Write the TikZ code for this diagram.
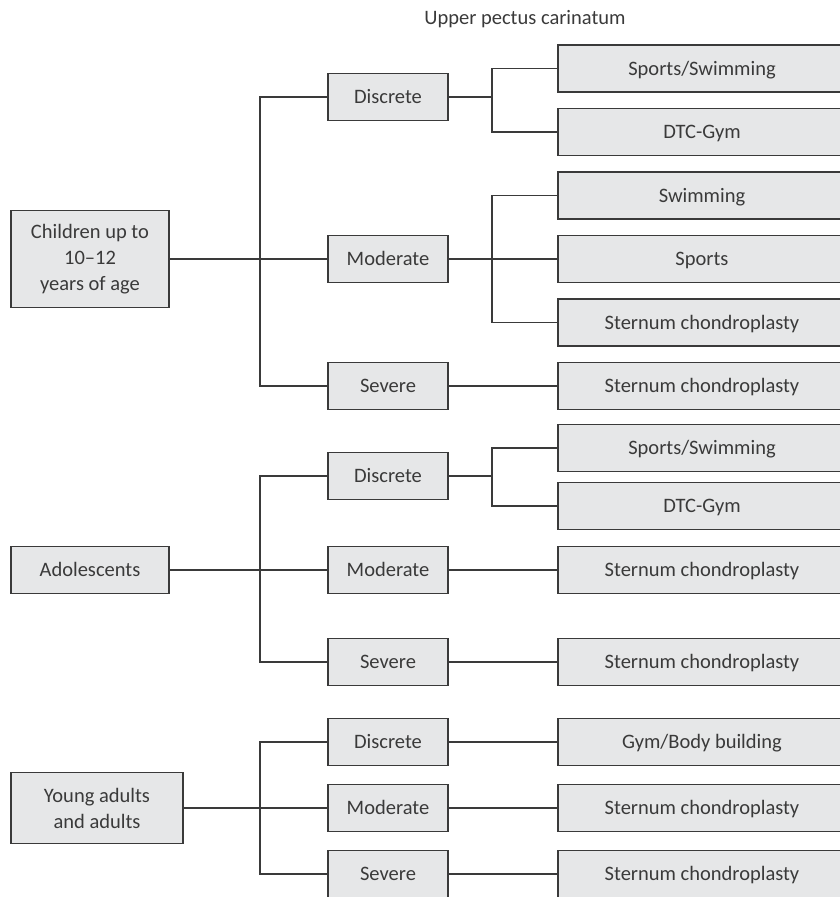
\documentclass[tikz,border=0pt]{standalone}
\usepackage{fontspec}
\setmainfont{Carlito}
\usetikzlibrary{positioning}
\definecolor{boxfill}{HTML}{E6E7E8}
\definecolor{boxline}{HTML}{3A3A3A}
\tikzset{
x=1pt, y=-1pt, % one unit is one pixel, y runs downwards
node distance=63.5pt, % spacing of the treatment boxes
every node/.style={text=boxline, font=\fontsize{20.5}{26}\selectfont},
box/.style={draw=boxline, fill=boxfill, line width=1.3pt, inner sep=0pt, align=center, minimum height=47pt, text height=13pt, text depth=0pt},
agebox/.style={box, minimum width=158pt}, % age groups
gradebox/.style={box, minimum width=120pt}, % severity
treatbox/.style={box, minimum width=288pt}, % treatment
multiline/.style={text height=, text depth=}, % boxes with several lines
link/.style={draw=boxline, line width=1.2pt},
}

\begin{document}
\begin{tikzpicture}
    \useasboundingbox (0,0) rectangle (840,897);
    \clip (0,0) rectangle (840,897);

    \node (title) at (525,19) {Upper pectus carinatum};

    \coordinate (trunk) at (260,0);
    \coordinate (fork) at (492,0);

    % children
    \node[agebox, multiline, minimum height=97pt] (kids) at (90,259) {Children up to\\10--12\\years of age};
    \node[gradebox] (kids_d) at (388,97) {Discrete};
    \node[gradebox] (kids_m) at (388,259) {Moderate};
    \node[gradebox] (kids_s) at (388,386) {Severe};

    \node[treatbox] (kids_d_a) at (702,68.5) {Sports/Swimming};
    \node[treatbox, below of=kids_d_a] (kids_d_b) {DTC-Gym};
    \node[treatbox, below of=kids_d_b] (kids_m_a) {Swimming};
    \node[treatbox, below of=kids_m_a] (kids_m_b) {Sports};
    \node[treatbox, below of=kids_m_b] (kids_m_c) {Sternum chondroplasty};
    \node[treatbox, below of=kids_m_c] (kids_s_a) {Sternum chondroplasty};

    % adolescents
    \node[agebox] (teens) at (90,570) {Adolescents};
    \node[gradebox] (teens_d) at (388,476) {Discrete};
    \node[gradebox] (teens_m) at (388,570) {Moderate};
    \node[gradebox] (teens_s) at (388,662) {Severe};

    \node[treatbox] (teens_d_a) at (702,448) {Sports/Swimming};
    \node[treatbox, node distance=58pt, below of=teens_d_a] (teens_d_b) {DTC-Gym};
    \node[treatbox, node distance=314pt, right of=teens_m] (teens_m_a) {Sternum chondroplasty};
    \node[treatbox, node distance=314pt, right of=teens_s] (teens_s_a) {Sternum chondroplasty};

    % young adults
    \node[agebox, multiline, minimum width=172pt, minimum height=71pt] (adults) at (97,808) {Young adults\\and adults};
    \node[gradebox] (adults_d) at (388,742) {Discrete};
    \node[gradebox] (adults_m) at (388,808) {Moderate};
    \node[gradebox] (adults_s) at (388,874) {Severe};

    \node[treatbox, node distance=314pt, right of=adults_d] (adults_d_a) {Gym/Body building};
    \node[treatbox, node distance=314pt, right of=adults_m] (adults_m_a) {Sternum chondroplasty};
    \node[treatbox, node distance=314pt, right of=adults_s] (adults_s_a) {Sternum chondroplasty};

    % age group to severity
    \draw[link] (kids) -- (kids_m);
    \draw[link] (kids_d.west) -- (kids_d.west -| trunk) -- (kids_s.west -| trunk) -- (kids_s.west);
    \draw[link] (teens) -- (teens_m);
    \draw[link] (teens_d.west) -- (teens_d.west -| trunk) -- (teens_s.west -| trunk) -- (teens_s.west);
    \draw[link] (adults) -- (adults_m);
    \draw[link] (adults_d.west) -- (adults_d.west -| trunk) -- (adults_s.west -| trunk) -- (adults_s.west);

    % severity to treatment
    \draw[link] (kids_d.east) -- (kids_d.east -| fork);
    \draw[link] (kids_d_a.west) -- (kids_d_a.west -| fork) -- (kids_d_b.west -| fork) -- (kids_d_b.west);
    \draw[link] (kids_m) -- (kids_m_b);
    \draw[link] (kids_m_a.west) -- (kids_m_a.west -| fork) -- (kids_m_c.west -| fork) -- (kids_m_c.west);
    \draw[link] (kids_s) -- (kids_s_a);
    \draw[link] (teens_d.east) -- (teens_d.east -| fork);
    \draw[link] (teens_d_a.west) -- (teens_d_a.west -| fork) -- (teens_d_b.west -| fork) -- (teens_d_b.west);
    \draw[link] (teens_m) -- (teens_m_a);
    \draw[link] (teens_s) -- (teens_s_a);
    \draw[link] (adults_d) -- (adults_d_a);
    \draw[link] (adults_m) -- (adults_m_a);
    \draw[link] (adults_s) -- (adults_s_a);
\end{tikzpicture}
\end{document}
